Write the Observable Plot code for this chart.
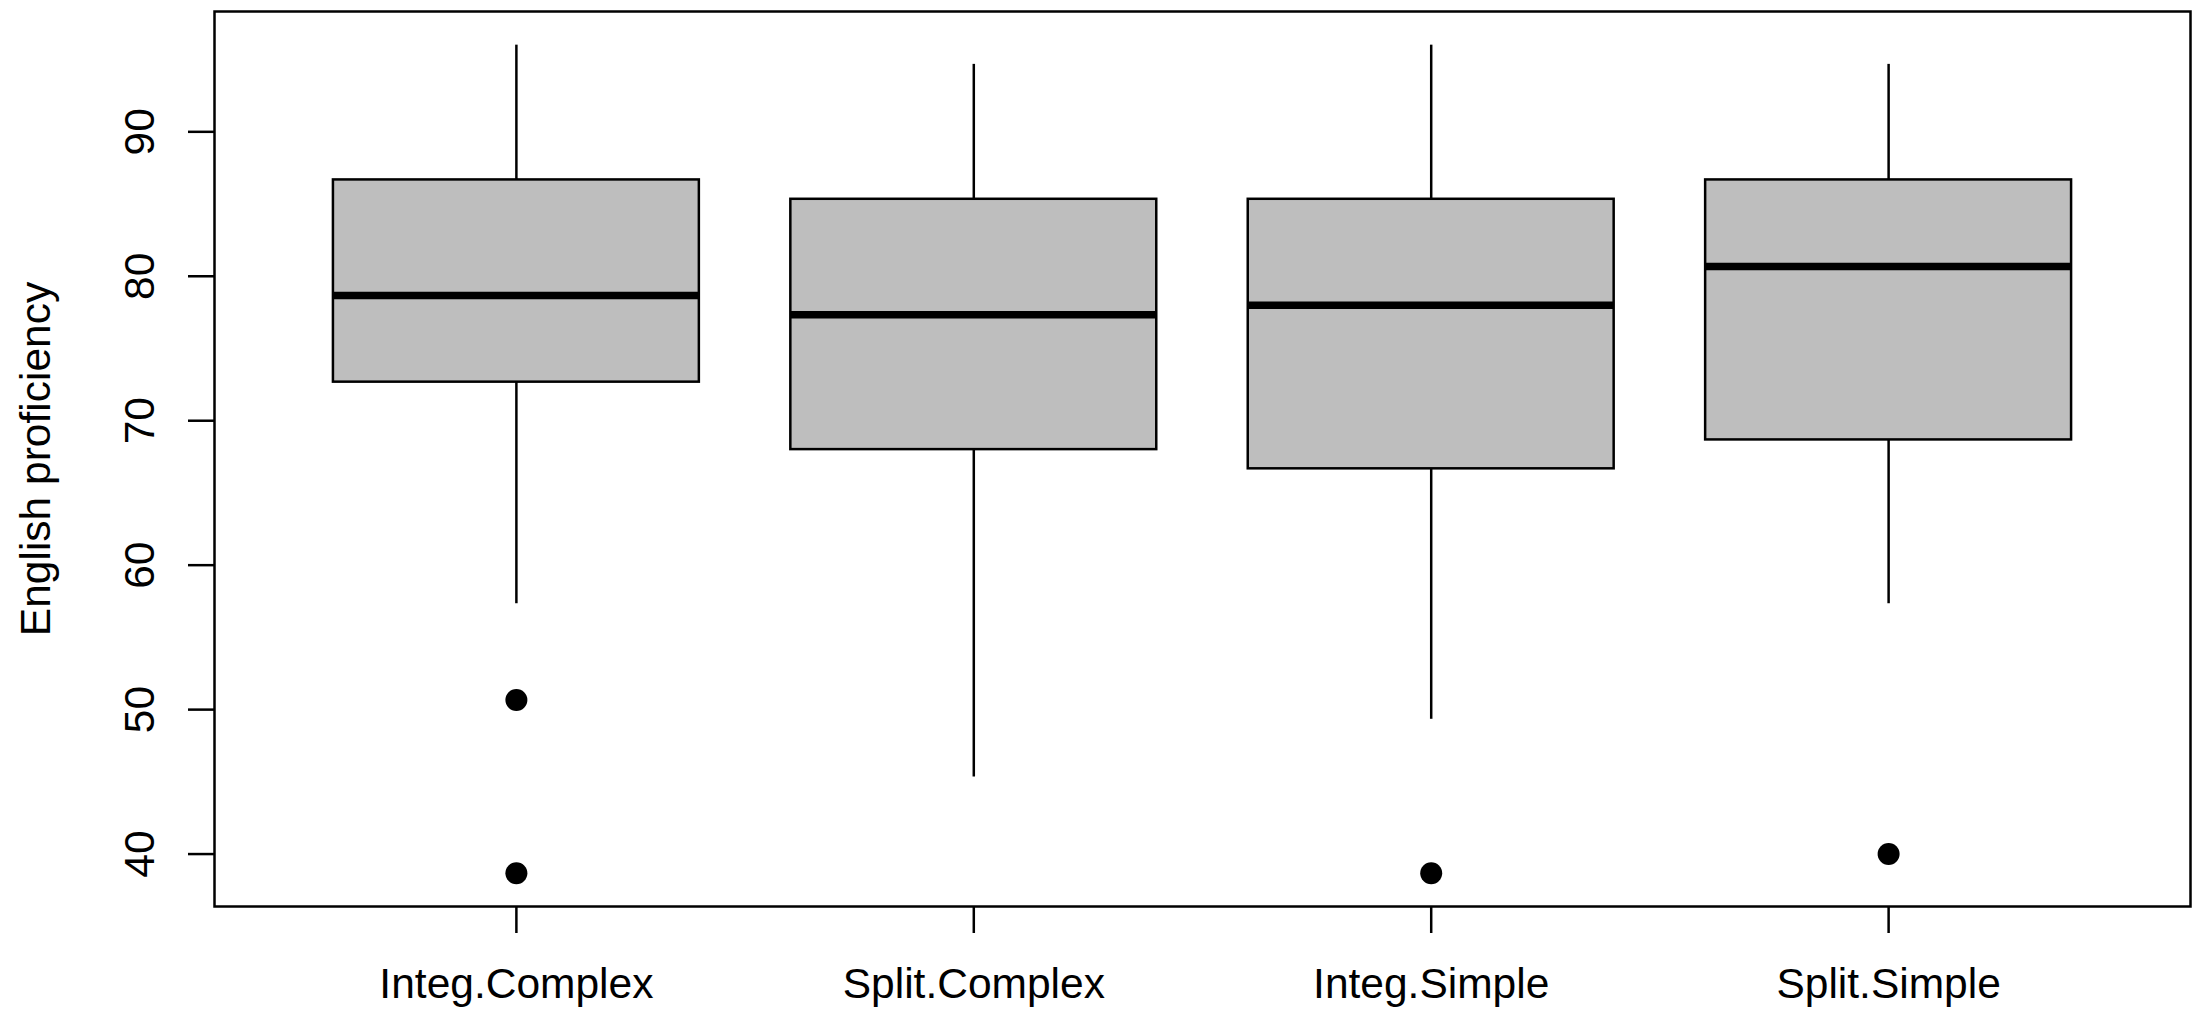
<!DOCTYPE html>
<html><head><meta charset="utf-8">
<script src="https://cdn.jsdelivr.net/npm/d3@7"></script>
<script src="https://cdn.jsdelivr.net/npm/@observablehq/plot@0.6"></script>
<style>html,body{margin:0;padding:0;background:#fff;overflow:hidden} svg{display:block}</style>
</head><body><div id="chart"></div>
<script>
const categories = ["Integ.Complex", "Split.Complex", "Integ.Simple", "Split.Simple"];
const lowerWhisker = [57.33, 45.33, 49.33, 57.33];
const q1Values = [72.67, 68.0, 66.67, 68.67];
const medianValues = [78.67, 77.33, 78.0, 80.67];
const q3Values = [86.67, 85.33, 85.33, 86.67];
const upperWhisker = [96.0, 94.67, 96.0, 94.67];
const outlierGroups = ["Integ.Complex", "Integ.Complex", "Integ.Simple", "Split.Simple"];
const outlierValues = [50.67, 38.67, 38.67, 40.0];
const yTicks = [40, 50, 60, 70, 80, 90];
const yLabel = "English proficiency";

const boxes = categories.map((c, i) => ({
  pos: i + 1, name: c,
  lo: lowerWhisker[i], q1: q1Values[i], med: medianValues[i], q3: q3Values[i], hi: upperWhisker[i]
}));
const outliers = outlierValues.map((v, i) => ({pos: categories.indexOf(outlierGroups[i]) + 1, value: v}));
const half = 0.4;
const FS = 42.5;

const chart = Plot.plot({
  width: 2192, height: 1013,
  marginLeft: 214, marginRight: 2, marginTop: 11, marginBottom: 107,
  style: {fontFamily: "'Liberation Sans', Arial, Helvetica, sans-serif", fontSize: FS + "px", background: "white", color: "black"},
  x: {type: "linear", domain: [0.34, 4.66]},
  y: {domain: [36.37, 98.33]},
  marks: [
    Plot.ruleX(boxes, {x: "pos", y1: "lo", y2: "q1", stroke: "black", strokeWidth: 2.5}),
    Plot.ruleX(boxes, {x: "pos", y1: "q3", y2: "hi", stroke: "black", strokeWidth: 2.5}),
    Plot.rect(boxes, {x1: d => d.pos - half, x2: d => d.pos + half, y1: "q1", y2: "q3", fill: "#BEBEBE", stroke: "black", strokeWidth: 2.5}),
    Plot.ruleY(boxes, {x1: d => d.pos - half, x2: d => d.pos + half, y: "med", stroke: "black", strokeWidth: 7.5}),
    Plot.dot(outliers, {x: "pos", y: "value", r: 11, fill: "black", stroke: "none"}),
    Plot.axisX({ticks: [1, 2, 3, 4], tickFormat: d => categories[d - 1], tickSize: 27, tickPadding: 34, label: null, fontSize: FS, stroke: "black", strokeWidth: 2.5}),
    Plot.axisY({ticks: yTicks, tickSize: 26, tickFormat: () => "", label: null, stroke: "black", strokeWidth: 2.5}),
    Plot.text(yTicks, {y: d => d, text: d => String(d), frameAnchor: "left", dx: -61, rotate: -90, textAnchor: "middle", lineAnchor: "bottom", fontSize: FS, fill: "black"}),
    Plot.text([yLabel], {text: d => d, frameAnchor: "left", dx: -165, rotate: -90, textAnchor: "middle", lineAnchor: "bottom", fontSize: FS, fill: "black"}),
    Plot.frame({stroke: "black", strokeWidth: 2.5})
  ]
});
document.getElementById("chart").appendChild(chart);
</script>
</body></html>
